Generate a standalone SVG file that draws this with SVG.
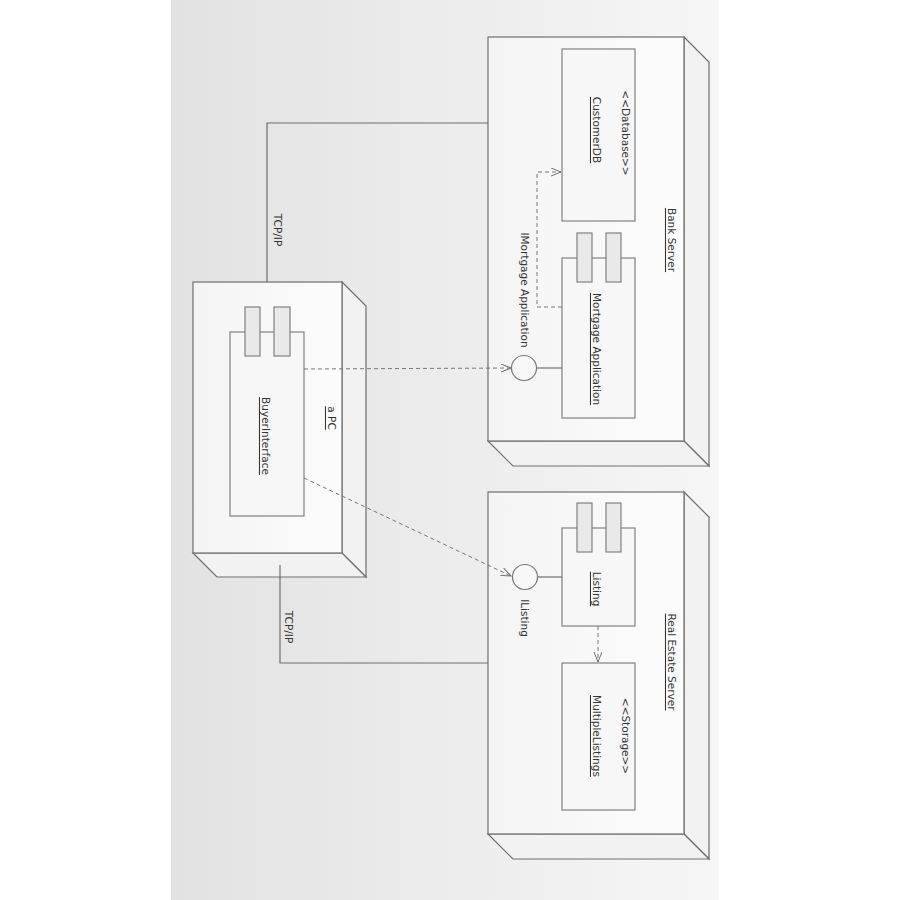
<svg xmlns="http://www.w3.org/2000/svg" width="900" height="900" viewBox="0 0 900 900">
<defs>
<linearGradient id="bg" x1="0" y1="0" x2="1" y2="0">
<stop offset="0" stop-color="#e2e2e2"/>
<stop offset="1" stop-color="#f6f6f6"/>
</linearGradient>
<linearGradient id="face" x1="0" y1="0" x2="1" y2="0">
<stop offset="0" stop-color="#f4f4f4"/>
<stop offset="1" stop-color="#fcfcfc"/>
</linearGradient>
<marker id="arr" markerWidth="12" markerHeight="10" refX="10" refY="4" orient="auto" markerUnits="userSpaceOnUse">
<path d="M0,0 L10,4 L0,8" fill="none" stroke="#707070" stroke-width="1"/>
</marker>
</defs>
<style>
.ln{stroke:#6e6e6e;stroke-width:1.2;fill:none}
.front{fill:url(#face);stroke:#6e6e6e;stroke-width:1.2}
.side{fill:#f2f2f2;stroke:#6e6e6e;stroke-width:1.2}
.comp{fill:#f7f7f7;stroke:#808080;stroke-width:1.2}
.tab{fill:#e9e9e9;stroke:#808080;stroke-width:1.2}
.dash{stroke:#777;stroke-width:1;fill:none;stroke-dasharray:4,3}
.t{font-family:"DejaVu Sans",sans-serif;font-size:10.5px;fill:#333;text-anchor:middle;dominant-baseline:central}
.u{text-decoration:underline}
.ball{fill:#f8f8f8;stroke:#777;stroke-width:1.2}
</style>
<rect x="171" y="0" width="548" height="900" fill="url(#bg)"/>

<g id="bank-server">
<polygon class="side" points="684,37 709,62 709,466 684,441"/>
<polygon class="side" points="488,441 513,466 709,466 684,441"/>
<rect class="front" x="488" y="37" width="196" height="404"/>
<text class="t u" transform="translate(672,240) rotate(90)">Bank Server</text>
</g>

<g id="customer-db">
<rect class="comp" x="562" y="49" width="73" height="172"/>
<text class="t" transform="translate(626,133) rotate(90)">&lt;&lt;Database&gt;&gt;</text>
<text class="t u" transform="translate(597,130) rotate(90)">CustomerDB</text>
</g>

<g id="mortgage-application">
<rect class="comp" x="562" y="258" width="73" height="160"/>
<rect class="tab" x="577" y="233" width="15" height="49"/>
<rect class="tab" x="606" y="233" width="15" height="49"/>
<text class="t u" transform="translate(597,349) rotate(90)">Mortgage Application</text>
</g>

<g id="imortgage-interface">
<line class="ln" x1="537" y1="368" x2="562" y2="368"/>
<circle class="ball" cx="524" cy="368" r="12.5"/>
<text class="t" transform="translate(525,290) rotate(90)">IMortgage Application</text>
</g>

<g id="real-estate-server">
<polygon class="side" points="684,492 709,517 709,859 684,834"/>
<polygon class="side" points="488,834 513,859 709,859 684,834"/>
<rect class="front" x="488" y="492" width="196" height="342"/>
<text class="t u" transform="translate(672,662) rotate(90)">Real Estate Server</text>
</g>

<g id="listing">
<rect class="comp" x="562" y="528" width="73" height="98"/>
<rect class="tab" x="577" y="503" width="15" height="49"/>
<rect class="tab" x="606" y="503" width="15" height="49"/>
<text class="t u" transform="translate(597,589) rotate(90)">Listing</text>
</g>

<g id="ilisting-interface">
<line class="ln" x1="537" y1="577" x2="562" y2="577"/>
<circle class="ball" cx="525" cy="577" r="12.5"/>
<text class="t" transform="translate(525,618) rotate(90)">IListing</text>
</g>

<g id="multiple-listings">
<rect class="comp" x="562" y="663" width="73" height="147"/>
<text class="t" transform="translate(626,736) rotate(90)">&lt;&lt;Storage&gt;&gt;</text>
<text class="t u" transform="translate(597,736) rotate(90)">MultipleListings</text>
</g>

<g id="a-pc">
<polygon class="side" points="342,282 366,306 366,577 342,553"/>
<polygon class="side" points="193,553 217,577 366,577 342,553"/>
<rect class="front" x="193" y="282" width="149" height="271"/>
<text class="t u" transform="translate(332,418) rotate(90)">a PC</text>
</g>

<g id="buyer-interface">
<rect class="comp" x="230" y="332" width="74" height="184"/>
<rect class="tab" x="245" y="307" width="15" height="49"/>
<rect class="tab" x="274" y="307" width="16" height="49"/>
<text class="t u" transform="translate(266,436) rotate(90)">BuyerInterface</text>
</g>

<g id="connectors">
<polyline class="ln" points="267,282 267,123 488,123"/>
<polyline class="ln" points="280,565 280,663 488,663"/>
<line class="dash" x1="304" y1="369" x2="511" y2="368" marker-end="url(#arr)"/>
<line class="dash" x1="304" y1="478" x2="511" y2="576" marker-end="url(#arr)"/>
<polyline class="dash" points="562,307 537,307 537,172 561,172" marker-end="url(#arr)"/>
<line class="dash" x1="598" y1="626" x2="598" y2="662" marker-end="url(#arr)"/>
<text class="t" transform="translate(278,230) rotate(90)">TCP/IP</text>
<text class="t" transform="translate(289,627) rotate(90)">TCP/IP</text>
</g>
</svg>
